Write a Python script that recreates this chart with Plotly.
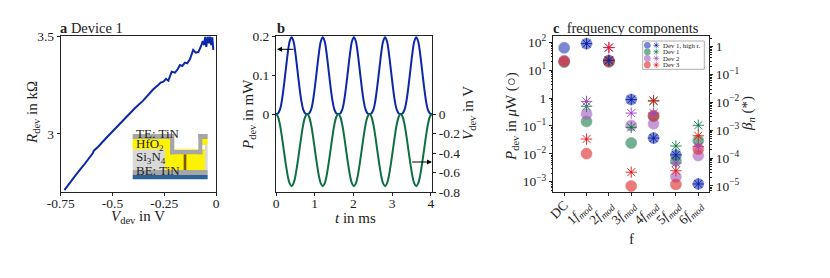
import plotly.graph_objects as go

W, H = 830, 278
# ---- data panel a
v_dev = [-0.732,-0.705,-0.673,-0.641,-0.617,-0.596,-0.590,-0.569,-0.536,-0.504,-0.472,-0.432,-0.392,-0.352,-0.328,
         -0.303,-0.279,-0.267,-0.254,-0.241,-0.230,-0.214,-0.198,-0.185,-0.174,-0.163,-0.150,-0.139,-0.126,-0.110,-0.098,-0.085,-0.072,-0.064,-0.058,-0.052,-0.047,-0.040,-0.034,-0.028,-0.023,-0.018,-0.013]
r_dev = [2.714,2.753,2.796,2.838,2.871,2.900,2.915,2.935,2.973,3.009,3.046,3.088,3.131,3.170,3.199,
         3.228,3.250,3.262,3.267,3.281,3.272,3.318,3.313,3.330,3.352,3.347,3.364,3.361,3.381,3.429,3.415,3.418,3.449,3.474,3.454,3.496,3.445,3.496,3.463,3.496,3.454,3.493,3.429]
# ---- data panel b
t_ms = [0.000,0.050,0.101,0.151,0.201,0.252,0.302,0.352,0.403,0.453,0.503,0.553,0.604,0.654,0.704,0.755,
        0.805,0.855,0.906,0.956,1.006,1.057,1.107,1.157,1.208,1.258,1.308,1.358,1.409,1.459,1.509,1.560,
        1.610,1.660,1.711,1.761,1.811,1.862,1.912,1.962,2.013,2.063,2.113,2.163,2.214,2.264,2.314,2.365,
        2.415,2.465,2.516,2.566,2.616,2.667,2.717,2.767,2.818,2.868,2.918,2.968,3.019,3.069,3.119,3.170,
        3.220,3.270,3.321,3.371,3.421,3.472,3.522,3.572,3.623,3.673,3.723,3.773,3.824,3.874,3.924,3.975,4.025]
p_mw = [0,.0015,.011,.034,.07,.113,.155,.186,.197,.186,.155,.113,.07,.034,.011,.0015,
        0,.0015,.011,.034,.07,.113,.155,.186,.197,.186,.155,.113,.07,.034,.011,.0015,
        0,.0015,.011,.034,.07,.113,.155,.186,.197,.186,.155,.113,.07,.034,.011,.0015,
        0,.0015,.011,.034,.07,.113,.155,.186,.197,.186,.155,.113,.07,.034,.011,.0015,
        0,.0015,.011,.034,.07,.113,.155,.186,.197,.186,.155,.113,.07,.034,.011,.0015,0]
v_wave = [0,-.028,-.108,-.229,-.37,-.511,-.632,-.712,-.74,-.712,-.632,-.511,-.37,-.229,-.108,-.028,
          0,-.028,-.108,-.229,-.37,-.511,-.632,-.712,-.74,-.712,-.632,-.511,-.37,-.229,-.108,-.028,
          0,-.028,-.108,-.229,-.37,-.511,-.632,-.712,-.74,-.712,-.632,-.511,-.37,-.229,-.108,-.028,
          0,-.028,-.108,-.229,-.37,-.511,-.632,-.712,-.74,-.712,-.632,-.511,-.37,-.229,-.108,-.028,
          0,-.028,-.108,-.229,-.37,-.511,-.632,-.712,-.74,-.712,-.632,-.511,-.37,-.229,-.108,-.028,0]
# ---- data panel c
freq = ["DC","1<i>f</i><sub><i>mod</i></sub>","2<i>f</i><sub><i>mod</i></sub>","3<i>f</i><sub><i>mod</i></sub>",
        "4<i>f</i><sub><i>mod</i></sub>","5<i>f</i><sub><i>mod</i></sub>","6<i>f</i><sub><i>mod</i></sub>"]
names = ["Dev 1, high r.","Dev 1","Dev 2","Dev 3"]
p_dev1h = [64,90,22,0.9,0.037,0.009,0.00083]
p_dev1 = [19.5,0.145,20,0.0245,0.22,0.0056,0.03]
p_dev2 = [22,0.27,22,0.105,0.12,0.0015,0.0087]
p_dev3 = [21,0.0102,21,0.0007,0.235,0.0008,0.0148]
b_dev1h = [None,1.28,0.32,0.0125,5.2e-4,1.3e-4,1.17e-5]
b_dev1 = [None,0.0072,0.32,0.00126,0.011,2.7e-4,0.0015]
b_dev2 = [None,0.0107,0.92,0.0041,0.0041,6.6e-5,2.6e-4]
b_dev3 = [None,4.8e-4,0.92,3.1e-5,0.0115,3.5e-5,6.3e-4]
colors = ["#2a3fb5","#1f8050","#a85cc0","#e02a2a"]
star_colors = ["#0c1fa8","#0d7a45","#a040c8","#e81818"]

def px(x): return x / W
def py(y): return 1 - y / H

A = (60.7, 216); B = (276, 432); C = (553, 709); Y = (36, 192)
font = "Liberation Serif"
ink = "#222222"
axis = dict(showline=True, linecolor=ink, linewidth=1, ticks="outside", ticklen=3, tickwidth=1, automargin=False,
            tickcolor=ink, showgrid=False, zeroline=False, tickfont=dict(size=13.5, family=font, color=ink))
dom_y = [py(Y[1]), py(Y[0])]

fig = go.Figure()
fig.add_trace(go.Scatter(x=v_dev, y=r_dev, mode="lines", line=dict(color="#0c27a8", width=2), xaxis="x", yaxis="y", showlegend=False))
fig.add_trace(go.Scatter(x=t_ms, y=p_mw, mode="lines", line=dict(color="#0c27a8", width=2, shape="spline"), xaxis="x2", yaxis="y2", showlegend=False))
fig.add_trace(go.Scatter(x=t_ms, y=v_wave, mode="lines", line=dict(color="#0f6e45", width=2, shape="spline"), xaxis="x2", yaxis="y3", showlegend=False))

pos = list(range(7))
for vals, c in zip([p_dev1h, p_dev1, p_dev2, p_dev3], colors):
    fig.add_trace(go.Scatter(x=pos, y=vals, mode="markers", marker=dict(symbol="circle", size=11, color=c, opacity=0.62, line=dict(width=0.6, color=c)),
                             xaxis="x3", yaxis="y4", showlegend=False))
for vals, c in list(zip([b_dev1, b_dev2, b_dev3, b_dev1h], star_colors[1:] + star_colors[:1])):
    fig.add_trace(go.Scatter(x=pos, y=vals, mode="markers", marker=dict(symbol="asterisk-open", size=9.5, color=c, line=dict(width=0.9, color=c)),
                             xaxis="x3", yaxis="y5", showlegend=False))
    fig.add_trace(go.Scatter(x=pos, y=vals, mode="markers", marker=dict(symbol="circle", size=2.2, color=c),
                             xaxis="x3", yaxis="y5", showlegend=False))
# legend key markers on a small overlay axis
leg_row = [3, 2, 1, 0]
for row, c, sc in zip(leg_row, colors, star_colors):
    fig.add_trace(go.Scatter(x=[0.075], y=[row], mode="markers", marker=dict(symbol="circle", size=6.7, color=c, opacity=0.62),
                             xaxis="x4", yaxis="y6", showlegend=False))
    fig.add_trace(go.Scatter(x=[0.22], y=[row], mode="markers", marker=dict(symbol="asterisk-open", size=5, color=sc, line=dict(width=0.6, color=sc)),
                             xaxis="x4", yaxis="y6", showlegend=False))
    fig.add_trace(go.Scatter(x=[0.22], y=[row], mode="markers", marker=dict(symbol="circle", size=1.6, color=sc),
                             xaxis="x4", yaxis="y6", showlegend=False))

minor_left = [m * 10.0 ** e for e in range(-4, 3) for m in (2, 3, 4, 5, 6, 7, 8, 9)]
minor_right = [m * 10.0 ** e for e in range(-6, 1) for m in (2, 3, 4, 5, 6, 7, 8, 9)]

annos = []
def txt(x, y, s, size=13, anchor="left", angle=0):
    annos.append(dict(x=px(x), y=py(y), xref="paper", yref="paper", text=s, showarrow=False, xanchor=anchor, yanchor="middle",
                      textangle=angle, font=dict(size=size, family=font, color=ink)))
txt(58, 28, "<b>a</b> Device 1", 14.5)
txt(274.5, 28, "<b>b</b>", 14.5)
txt(551, 28, "<b>c</b>  frequency components", 14.5)
# axis titles
txt(138, 217, "<i>V</i><sub>dev</sub> in V", 15, "center")
txt(33, 113, "<i>R</i><sub>dev</sub> in kΩ", 15, "center", -90)
txt(355, 218, "<i>t</i> in ms", 15, "center")
txt(249, 115, "<i>P</i><sub>dev</sub> in mW", 15, "center", -90)
txt(469, 113, "<i>V</i><sub>dev</sub> in V", 15, "center", -90)
txt(631, 239, "f", 15, "center")
txt(512, 117, "<i>P</i><sub>dev</sub> in <i>μ</i>W (○)", 15, "center", -90)
txt(748, 114, "<i>β</i><sub><i>n</i></sub> (*)", 15, "center", -90)
# inset labels
txt(134, 133, "TE: TiN", 13)
txt(134, 144, "HfO<sub>2</sub>", 13)
txt(134, 157.7, "Si<sub>3</sub>N<sub>4</sub>", 13)
txt(134, 170.7, "BE: TiN", 13)
# legend labels
for s, yy in zip(names, [45.3, 51.7, 58, 64.7]):
    txt(660.5, yy, s, 6.8)
# arrows
for (x0, x1, yy) in [(295, 277, 49.3), (410.7, 432, 162)]:
    annos.append(dict(x=px(x1), y=py(yy), ax=x0 - x1, ay=0, xref="paper", yref="paper", axref="pixel", ayref="pixel", text="",
                      showarrow=True, arrowhead=2, arrowsize=1, arrowwidth=1, arrowcolor="#000000"))

shapes = []
def rect(x0, y0, x1, y1, c):
    ox, oy = (125, 120)
    shapes.append(dict(type="rect", xref="paper", yref="paper", x0=px(ox + x0 / 3), x1=px(ox + x1 / 3), y0=py(oy + y0 / 3), y1=py(oy + y1 / 3),
                       fillcolor=c, line=dict(width=0), layer="above"))
gray = "#a6a6a6"; light = "#d9d9d9"; yellow = "#fdf200"
rect(23, 150, 248, 165, gray)
rect(23, 165, 248, 178, "#2a6499")
rect(23, 88, 120, 150, light)
rect(23, 57, 135, 88, yellow)
rect(120, 88, 240, 150, yellow)
rect(228, 57, 248, 75, yellow)
rect(240, 75, 248, 150, light)
rect(23, 42, 135, 57, gray)
rect(135, 42, 148, 103, gray)
rect(135, 90, 232, 103, gray)
rect(220, 42, 232, 103, gray)
rect(220, 42, 248, 57, gray)
rect(176, 103, 184, 150, "#7a5a12")
# legend box
shapes.append(dict(type="rect", xref="paper", yref="paper", x0=px(642.7), x1=px(704.3), y0=py(41), y1=py(69.3),
                   fillcolor="white", line=dict(width=0.8, color="#999999"), layer="below"))

fig.update_layout(
    width=W, height=H, margin=dict(l=0, r=0, t=0, b=0, autoexpand=False), paper_bgcolor="white", plot_bgcolor="rgba(0,0,0,0)",
    showlegend=False, annotations=annos, shapes=shapes,
    xaxis=dict(axis, domain=[px(A[0]), px(A[1])], anchor="y", mirror=True, range=[-0.75, 0], tickvals=[-0.75, -0.5, -0.25, 0],
               ticktext=["-0.75", "-0.5", "-0.25", "0"], ticklabelstandoff=-4),
    yaxis=dict(axis, domain=dom_y, anchor="x", mirror=True, range=[2.704, 3.5], tickvals=[3, 3.5], ticktext=["3", "3.5"]),
    xaxis2=dict(axis, domain=[px(B[0]), px(B[1])], anchor="y2", mirror=True, range=[0, 4.03], tickvals=[0, 1, 2, 3, 4], ticklabelstandoff=-4),
    yaxis2=dict(axis, domain=dom_y, anchor="x2", range=[-0.2, 0.2], tickvals=[0, 0.1, 0.2], ticktext=["0", "0.1", "0.2"]),
    yaxis3=dict(axis, domain=dom_y, anchor="x2", overlaying="y2", side="right", range=[-0.8, 0.8], tickvals=[0, -0.2, -0.4, -0.6, -0.8],
                ticktext=["0", "-0.2", "-0.4", "-0.6", "-0.8"]),
    xaxis3=dict(axis, domain=[px(C[0]), px(C[1])], anchor="y4", mirror=True, range=[-0.5, 6.48], tickvals=pos, ticktext=freq, tickangle=-45, ticklabelstandoff=-4),
    yaxis4=dict(axis, domain=dom_y, anchor="x3", type="log", range=[-3.37, 2.23], tickvals=[100, 10, 1, 0.1, 0.01, 0.001],
                ticktext=["10<sup>2</sup>", "10<sup>1</sup>", "1", "10<sup>−1</sup>", "10<sup>−2</sup>", "10<sup>−3</sup>"],
                minor=dict(ticks="outside", ticklen=1.5, tickwidth=0.6, tickcolor=ink, tickvals=minor_left)),
    yaxis5=dict(axis, domain=dom_y, anchor="x3", overlaying="y4", side="right", type="log", range=[-5.22, 0.38], tickvals=[1, 0.1, 0.01, 0.001, 1e-4, 1e-5],
                ticktext=["1", "10<sup>−1</sup>", "10<sup>−2</sup>", "10<sup>−3</sup>", "10<sup>−4</sup>", "10<sup>−5</sup>"],
                minor=dict(ticks="outside", ticklen=1.5, tickwidth=0.6, tickcolor=ink, tickvals=minor_right)),
    xaxis4=dict(domain=[px(642.7), px(704.3)], anchor="y6", range=[0, 1], visible=False, fixedrange=True),
    yaxis6=dict(domain=[py(69.3), py(41)], anchor="x4", range=[-0.66, 3.65], visible=False, fixedrange=True),
)
fig.write_html("out.html", config={"displayModeBar": False}, post_script="document.body.style.margin='0';document.body.style.overflow='hidden';")
